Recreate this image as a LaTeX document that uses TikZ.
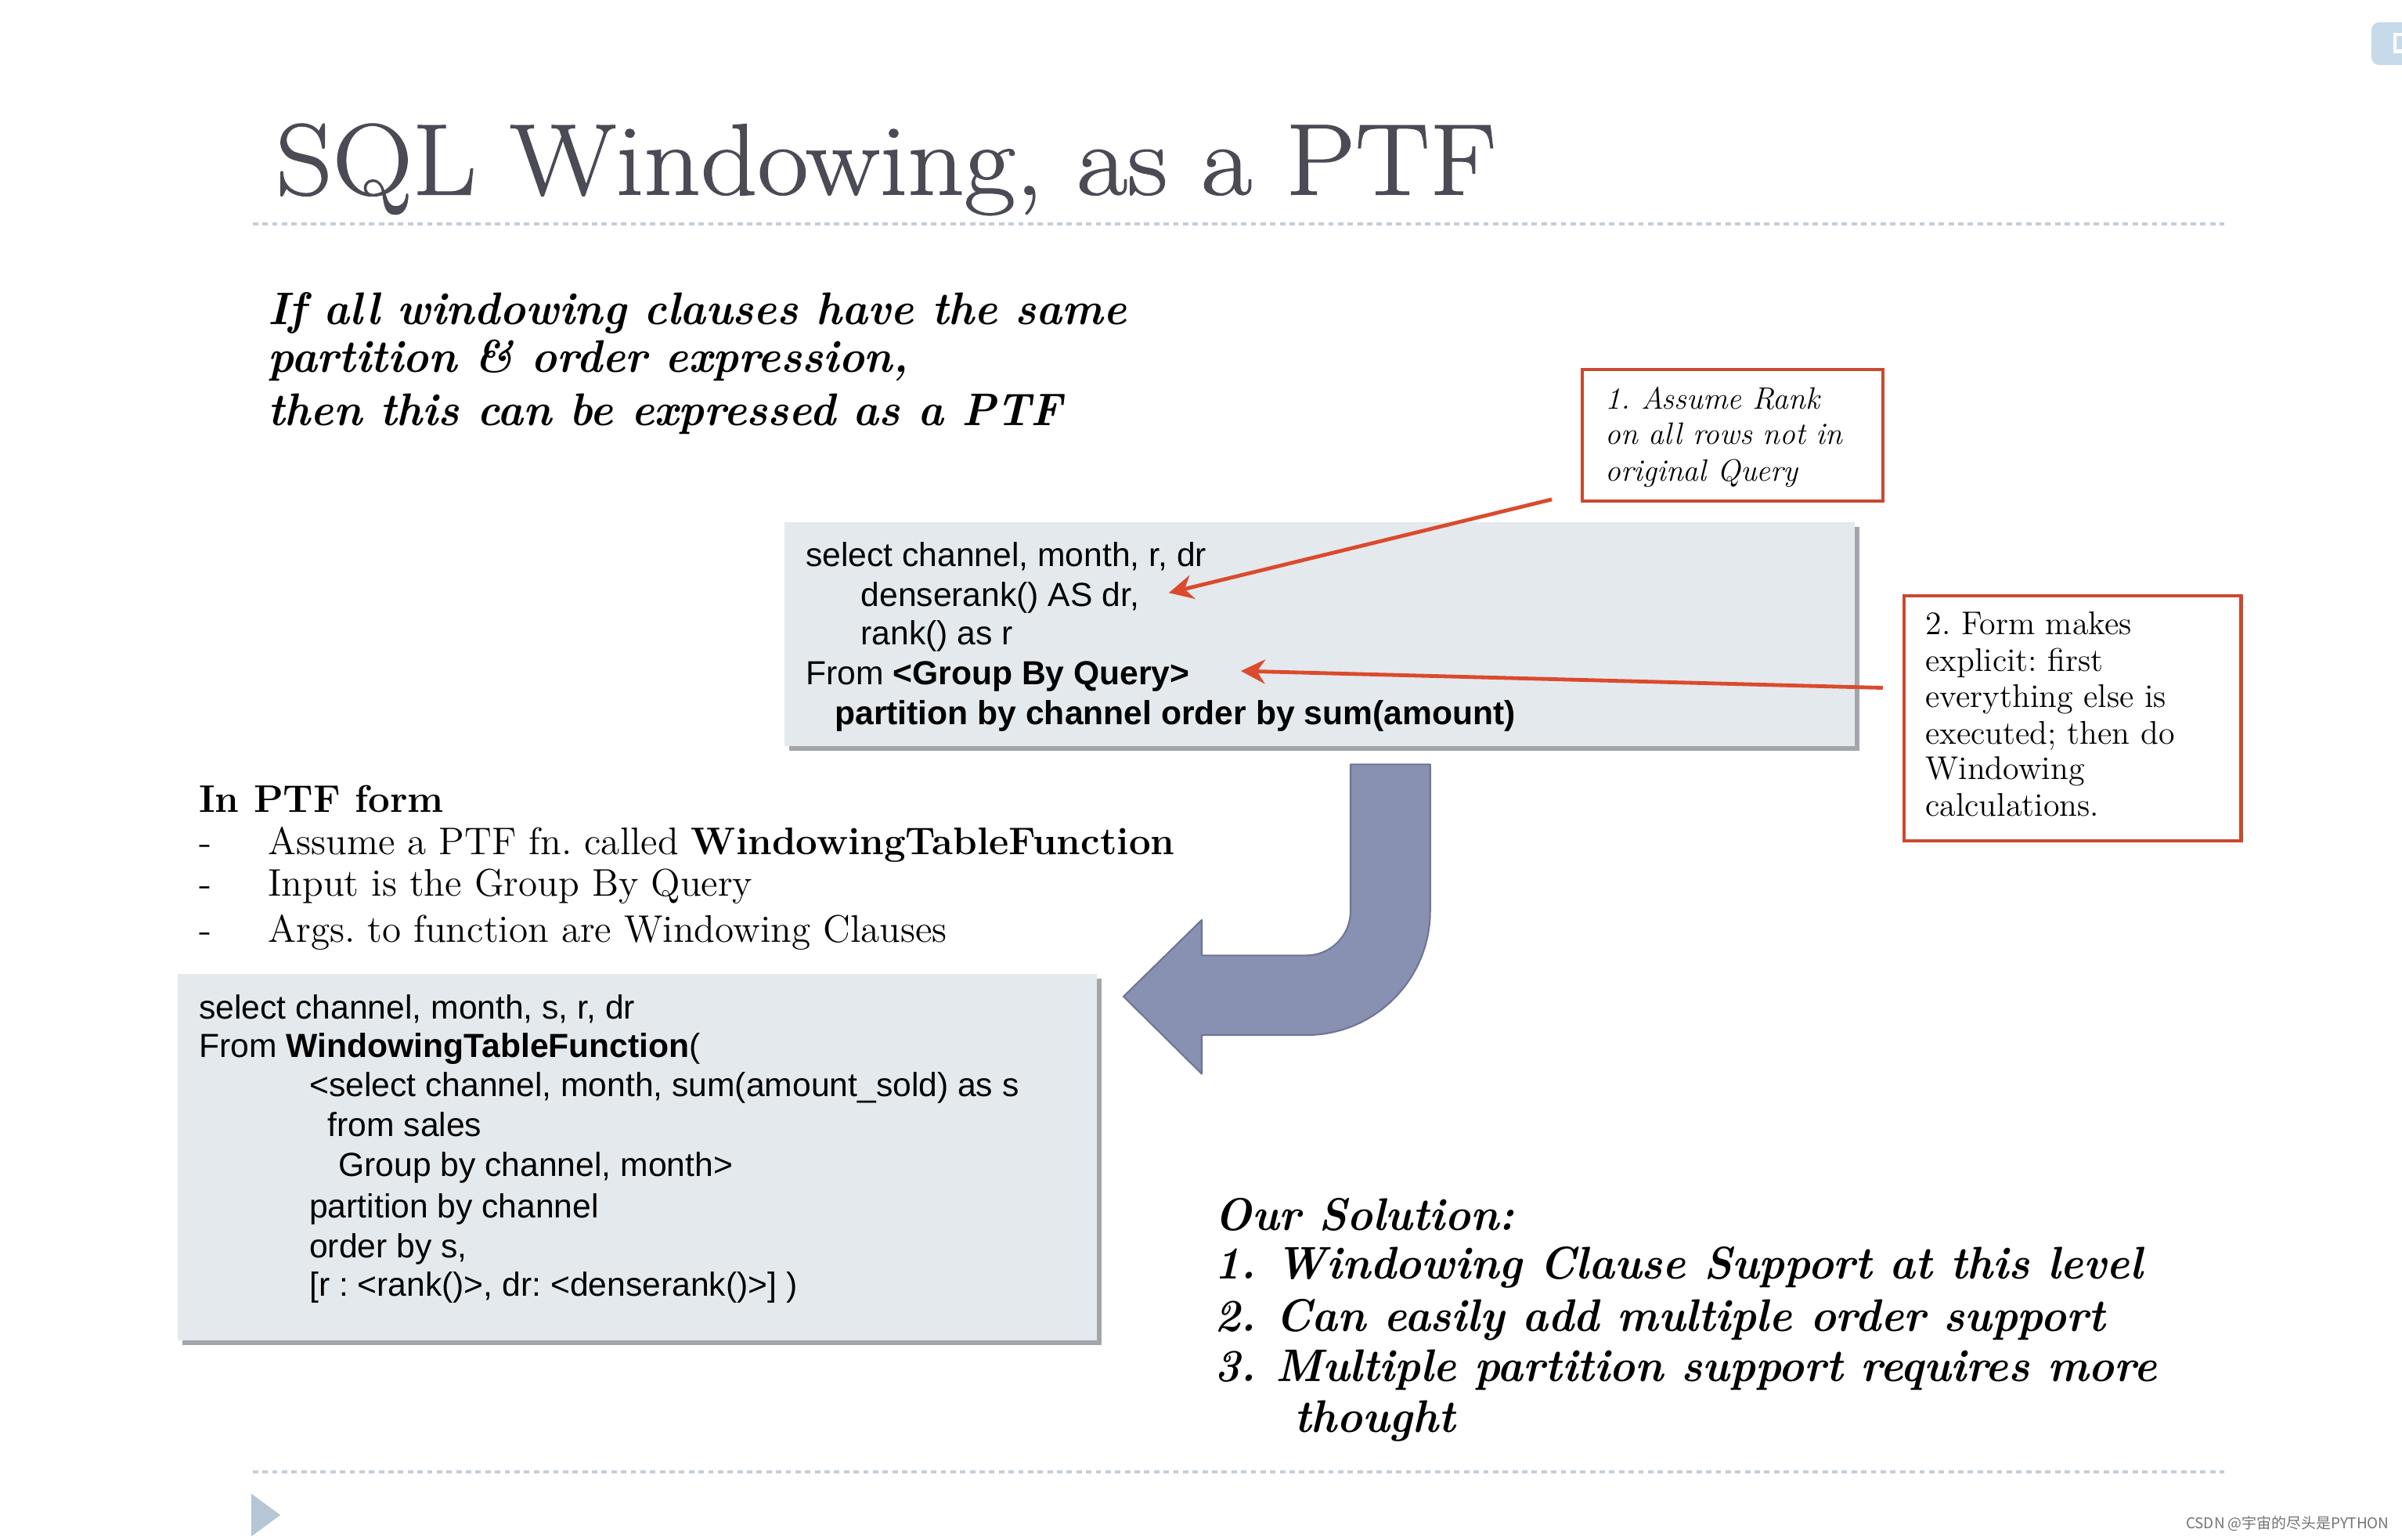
\documentclass[tikz,border=0pt]{standalone}
\usepackage{fontspec}
\newfontfamily\codefont{Liberation Sans}
\newfontfamily\cjkfont{Noto Sans CJK SC}
\newfontfamily\titlefont{Latin Modern Roman}[FakeStretch=1.095, FakeBold=1.0]
\newfontfamily\bifont{Latin Modern Roman}[FakeStretch=0.95]
\usetikzlibrary{arrows.meta,shadows}
\definecolor{titlegray}{HTML}{4A4B55}
\definecolor{dashblue}{HTML}{C3CFDA}
\definecolor{boxfill}{HTML}{E4E9ED}
\definecolor{boxshadow}{HTML}{A2A6AA}
\definecolor{calloutred}{HTML}{C94A30}
\definecolor{arrowred}{HTML}{DB4A2C}
\definecolor{bentfill}{HTML}{8891B1}
\definecolor{bentdraw}{HTML}{6C7595}
\definecolor{tabblue}{HTML}{B5C7D6}
\definecolor{cornerblue}{HTML}{C6DAEA}
\frenchspacing
\begin{document}
\begin{tikzpicture}[x=0.02cm, y=-0.02cm,
  txt/.style={anchor=base west, inner sep=0pt, outer sep=0pt},
  titletxt/.style={txt, text=titlegray, font=\titlefont\fontsize{37.7}{40}\selectfont},
  bitxt/.style={txt, font=\bifont\fontsize{17}{20}\selectfont\bfseries\itshape},
  bodytxt/.style={txt, font=\fontsize{14.3}{16}\selectfont},
  calltxt/.style={txt, font=\fontsize{12.2}{13}\selectfont},
  callitxt/.style={txt, font=\fontsize{11.5}{13}\selectfont\itshape},
  code/.style={txt, font=\codefont\fontsize{12.4}{14}\selectfont},
  dashline/.style={draw=dashblue, line width=1.1pt, dash pattern=on 2pt off 1.6pt},
  callout/.style={draw=calloutred, line width=1.2pt, fill=white, inner sep=0pt, outer sep=0pt},
  codebox/.style={fill=boxfill, inner sep=0pt, outer sep=0pt,
    drop shadow={shadow xshift=0.06cm, shadow yshift=-0.06cm, fill=boxshadow, opacity=1}},
  redarrow/.style={draw=arrowred, line width=1.4pt, -{Stealth[length=9pt, width=9pt, inset=3pt]}},
  bent/.style={fill=bentfill, draw=bentdraw, line width=0.6pt, line join=round}
]
\useasboundingbox (0,0) rectangle (1568,1005);
\fill[white] (0,0) rectangle (1568,1005);

% top-right corner tab
\fill[cornerblue, rounded corners=3pt] (1548,14.5) rectangle (1585,42.5);
\draw[white, line width=1.3pt] (1568,22.5) -- (1563.5,22.5) -- (1563.5,33.5) -- (1568,33.5);

% title
\node[titletxt] (title) at (180,127) {SQL Windowing, as a PTF};
\draw[dashline] (165,146) -- (1452,146);

% intro paragraph
\node[bitxt] (p1) at (175,212) {If all windowing clauses have the same};
\node[bitxt] (p2) at (175,243) {partition \& order expression,};
\node[bitxt] (p3) at (175,278) {then this can be expressed as a PTF};

% top code box
\node[codebox, minimum width=13.98cm, minimum height=2.92cm] (q1) at (861.5,414) {};
\node[code] (q1a) at (526,370) {select channel, month, r, dr};
\node[code] (q1b) at (562,396) {denserank() AS dr,};
\node[code] (q1c) at (562,421) {rank() as r};
\node[code] (q1d) at (526,447) {From \textbf{<Group By Query>}};
\node[code] (q1e) at (545,473) {\textbf{partition by channel order by sum(amount)}};

% callout 1
\node[callout, minimum width=3.92cm, minimum height=1.72cm] (c1) at (1131,284) {};
\node[callitxt] (c1a) at (1048,267) {1. Assume Rank};
\node[callitxt] (c1b) at (1048,290) {on all rows not in};
\node[callitxt] (c1c) at (1048,314) {original Query};

% callout 2
\node[callout, minimum width=4.4cm, minimum height=3.2cm] (c2) at (1353,469) {};
\node[calltxt] (c2a) at (1257,414) {2. Form makes};
\node[calltxt] (c2b) at (1257,438) {explicit: first};
\node[calltxt] (c2c) at (1257,462) {everything else is};
\node[calltxt] (c2d) at (1257,486) {executed; then do};
\node[calltxt] (c2e) at (1257,509) {Windowing};
\node[calltxt] (c2f) at (1257,533) {calculations.};

% red arrows
\coordinate (t1) at (763,387);
\coordinate (t2) at (810,438);
\draw[redarrow] ([shift={(-20,-1)}]c1.south west) -- (t1);
\draw[redarrow] ([shift={(-14,-20)}]c2.west) -- (t2);

% In PTF form
\node[bodytxt, font=\fontsize{14.3}{16}\selectfont\bfseries] (ptf) at (130,530) {In PTF form};
\node[bodytxt] (b1d) at (130,558) {-};
\node[bodytxt] (b1) at (175,558) {Assume a PTF fn. called \textbf{WindowingTableFunction}};
\node[bodytxt] (b2d) at (130,585) {-};
\node[bodytxt] (b2) at (175,585) {Input is the Group By Query};
\node[bodytxt] (b3d) at (130,615) {-};
\node[bodytxt] (b3) at (175,615) {Args. to function are Windowing Clauses};

% bent arrow
\filldraw[bent] (881.6,499) -- (933.6,499) -- (933.6,594.7)
  arc[start angle=0, end angle=90, radius=81] -- (784.5,675.7) -- (784.5,701)
  -- (733.4,650.5) -- (784.5,600.5) -- (784.5,623.7) -- (852.6,623.7)
  arc[start angle=90, end angle=0, radius=29] -- cycle;

% bottom code box
\node[codebox, minimum width=12cm, minimum height=4.78cm] (q2) at (416,755.5) {};
\node[code] (q2a) at (130,665) {select channel, month, s, r, dr};
\node[code] (q2b) at (130,690) {From \textbf{WindowingTableFunction}(};
\node[code] (q2c) at (202,716) {<select channel, month, sum(amount\_sold) as s};
\node[code] (q2d) at (214,742) {from sales};
\node[code] (q2e) at (221,768) {Group by channel, month>};
\node[code] (q2f) at (202,795) {partition by channel};
\node[code] (q2g) at (202,821) {order by s,};
\node[code] (q2h) at (202,846) {[r : <rank()>, dr: <denserank()>] )};

% our solution
\node[bitxt] (s0) at (793,803) {Our Solution:};
\node[bitxt] (s1n) at (793,835) {1.};
\node[bitxt] (s1) at (833,835) {Windowing Clause Support at this level};
\node[bitxt] (s2n) at (793,869) {2.};
\node[bitxt] (s2) at (833,869) {Can easily add multiple order support};
\node[bitxt] (s3n) at (793,902) {3.};
\node[bitxt] (s3) at (833,902) {Multiple partition support requires more};
\node[bitxt] (s4) at (845,935) {thought};

% footer
\draw[dashline] (165,961) -- (1452,961);
\fill[tabblue] (164,975) -- (183,989) -- (164,1003) -- cycle;
\node[txt, text=black!55, font=\cjkfont\fontsize{5.5}{6}\selectfont] (wm) at (1427,998) {CSDN @宇宙的尽头是PYTHON};
\end{tikzpicture}
\end{document}
